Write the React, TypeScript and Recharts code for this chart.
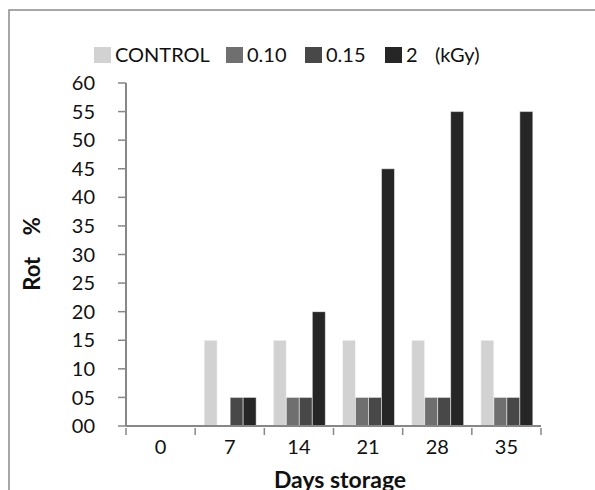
import { BarChart, Bar, XAxis, YAxis } from 'recharts'

const days = ['0', '7', '14', '21', '28', '35']
const control = [0, 15, 15, 15, 15, 15]
const dose010 = [0, 0, 5, 5, 5, 5]
const dose015 = [0, 5, 5, 5, 5, 5]
const dose2 = [0, 5, 20, 45, 55, 55]
const yTicks = [0, 5, 10, 15, 20, 25, 30, 35, 40, 45, 50, 55, 60]

const series = [
  { key: 'control', name: 'CONTROL', color: '#d2d2d2' },
  { key: 'd010', name: '0.10', color: '#6f6f6f' },
  { key: 'd015', name: '0.15', color: '#484848' },
  { key: 'd2', name: '2', color: '#262626' },
]

const data = days.map((d, i) => ({
  day: d,
  control: control[i],
  d010: dose010[i],
  d015: dose015[i],
  d2: dose2[i],
}))

const font = 'Lato, "Open Sans", sans-serif'
const axisColor = '#878787'

// legend positions (x of each square)
const legendX = [94, 226, 305, 385]

// category tick: label at centre, tick marks at the band edges
function DayTick(props: any) {
  const { x, y, payload, index, width } = props
  const band = width / days.length
  const axisY = y - 12
  return (
    <g>
      <line x1={x - band / 2} x2={x - band / 2} y1={axisY} y2={axisY + 7} stroke={axisColor} strokeWidth={1.5} />
      {index === days.length - 1 && (
        <line x1={x + band / 2} x2={x + band / 2} y1={axisY} y2={axisY + 7} stroke={axisColor} strokeWidth={1.5} />
      )}
      <text x={x} y={y} dy="0.71em" textAnchor="middle" fontSize={20} fontFamily={font} fill="#111">
        {payload.value}
      </text>
    </g>
  )
}

export default function App() {
  return (
    <div style={{ position: 'absolute', left: 0, top: 0, background: '#fff' }}>
      <BarChart
        width={595}
        height={490}
        data={data}
        margin={{ top: 83, right: 54, bottom: 34, left: 66 }}
        barCategoryGap="13%"
        barGap={0}
      >
        <rect x={9} y={10} width={600} height={500} fill="none" stroke="#8a8a8a" strokeWidth={1.5} />

        <XAxis
          dataKey="day"
          tickLine={false}
          axisLine={{ stroke: axisColor, strokeWidth: 2 }}
          tick={<DayTick />}
          tickMargin={8}
          height={30}
          interval={0}
        />
        <YAxis
          width={60}
          domain={[0, 60]}
          ticks={yTicks}
          interval={0}
          tickFormatter={(v: number) => String(v).padStart(2, '0')}
          tickSize={8}
          tickMargin={23}
          axisLine={{ stroke: axisColor, strokeWidth: 2 }}
          tickLine={{ stroke: axisColor, strokeWidth: 1.5 }}
          tick={{ fill: '#111', fontSize: 20, fontFamily: font }}
        />

        {series.map((s) => (
          <Bar
            key={s.key}
            dataKey={s.key}
            name={s.name}
            fill={s.color}
            stroke="#ffffff"
            strokeWidth={0.5}
            isAnimationActive={false}
          />
        ))}

        {series.map((s, i) => (
          <g key={'lg' + s.key}>
            <rect x={legendX[i]} y={47} width={17} height={16} fill={s.color} />
            <text
              x={legendX[i] + 21}
              y={62}
              fontSize={20}
              fontFamily={font}
              fill="#111"
            >
              {s.name}
            </text>
          </g>
        ))}
        <text x={435} y={62} fontSize={20} fontFamily={font} fill="#111">(kGy)</text>

        <text
          x={40}
          y={254}
          transform="rotate(-90 40 254)"
          textAnchor="middle"
          fontSize={22}
          fontWeight="bold"
          fontFamily={font}
          fill="#111"
          style={{ whiteSpace: 'pre' }}
        >
          {'Rot    %'}
        </text>
        <text
          x={340}
          y={488}
          textAnchor="middle"
          fontSize={23}
          fontWeight="bold"
          fontFamily={font}
          fill="#111"
        >
          Days storage
        </text>
      </BarChart>
    </div>
  )
}
